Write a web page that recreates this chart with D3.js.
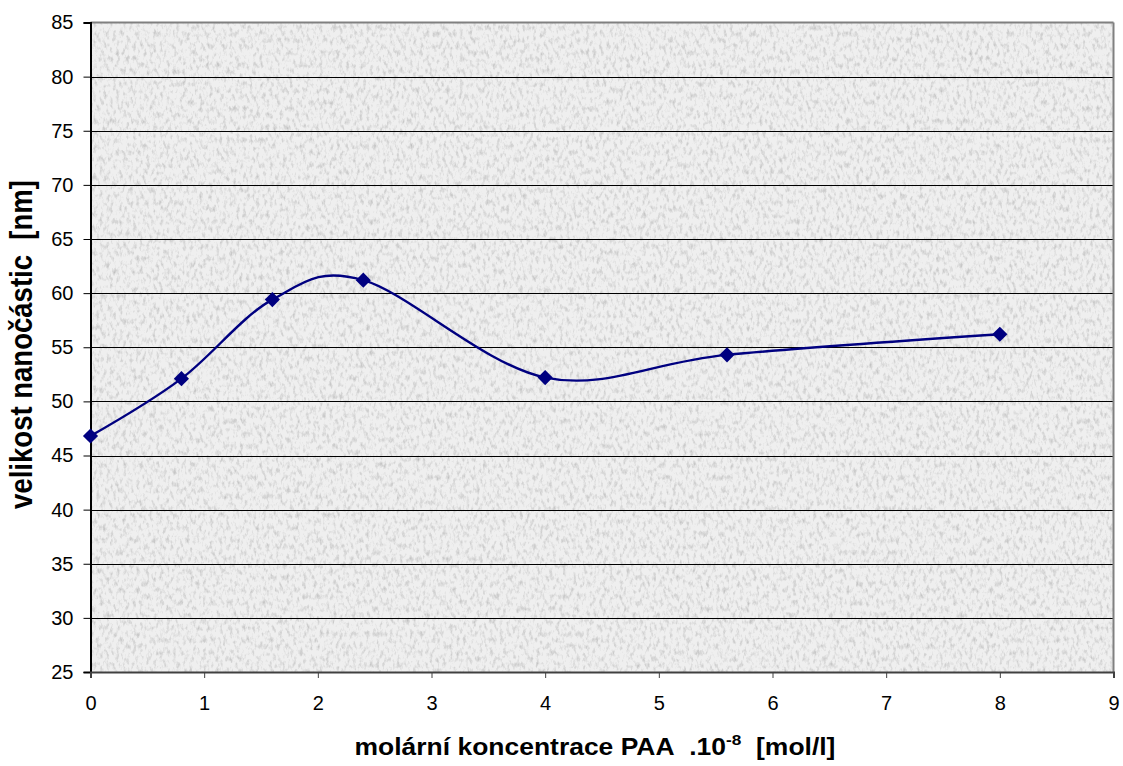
<!DOCTYPE html>
<html><head><meta charset="utf-8">
<script src="https://cdn.jsdelivr.net/npm/d3@7/dist/d3.min.js"></script>
<style>
html,body{margin:0;padding:0;background:#fff;}
svg{display:block;font-family:"Liberation Sans",Arial,sans-serif;}
</style></head>
<body>
<svg id="chart" width="1123" height="766"></svg>
<script>
const xValues = [0, 0.8, 1.6, 2.4, 4, 5.6, 8];
const yValues = [46.8, 52.1, 59.4, 61.2, 52.2, 54.3, 56.2];
const xTicks = [0,1,2,3,4,5,6,7,8,9];
const yTicks = [25,30,35,40,45,50,55,60,65,70,75,80,85];
const xTitle = "molární koncentrace PAA\u00a0\u00a0.10";
const xTitleSup = "-8";
const xTitleEnd = "\u00a0\u00a0[mol/l]";
const yTitle = "velikost nanočástic\u00a0\u00a0[nm]";

const svg = d3.select("#chart");
const L = 90.5, R = 1113.5, T = 22.5, B = 672;
const x = d3.scaleLinear().domain([0,9]).range([L,R]);
const y = d3.scaleLinear().domain([25,85]).range([B,T]);

// texture
const defs = svg.append("defs");
const f = defs.append("filter").attr("id","granite").attr("x",0).attr("y",0).attr("width","100%").attr("height","100%");
f.append("feTurbulence").attr("type","fractalNoise").attr("baseFrequency","0.3 0.16").attr("numOctaves",3).attr("seed",7).attr("result","n");
f.append("feColorMatrix").attr("in","n").attr("type","matrix")
 .attr("values","0 0 0 0 0  0 0 0 0 0  0 0 0 0 0  -1.8 0 0 0 0.95").attr("result","a");
f.append("feFlood").attr("flood-color","#9a9a9a").attr("result","c");
f.append("feComposite").attr("in","c").attr("in2","a").attr("operator","in").attr("result","d");
f.append("feComponentTransfer").attr("in","d").attr("result","e")
 .append("feFuncA").attr("type","linear").attr("slope",0.65).attr("intercept",0);

svg.append("rect").attr("x",L).attr("y",T).attr("width",R-L).attr("height",B-T).attr("fill","#efefef");
svg.append("rect").attr("x",L).attr("y",T).attr("width",R-L).attr("height",B-T).attr("fill","#fff").attr("filter","url(#granite)");

// gridlines
svg.append("g").selectAll("line").data(yTicks.filter(v=>v>25 && v<85)).join("line")
  .attr("x1",L).attr("x2",R).attr("y1",d=>Math.round(y(d))+0.5).attr("y2",d=>Math.round(y(d))+0.5)
  .attr("stroke","#000").attr("stroke-width",1);

// border top/right
svg.append("line").attr("x1",L).attr("x2",R).attr("y1",T).attr("y2",T).attr("stroke","#808080").attr("stroke-width",2);
svg.append("line").attr("x1",R).attr("x2",R).attr("y1",T).attr("y2",B).attr("stroke","#808080").attr("stroke-width",2);

// axes
const yAxis = d3.axisLeft(y).tickValues(yTicks).tickSize(7).tickPadding(10).tickFormat(d3.format("d"));
const gy = svg.append("g").attr("transform",`translate(${L},0)`).call(yAxis);
gy.attr("font-size",null).attr("font-family",null);
gy.select(".domain").attr("stroke","#000").attr("stroke-width",2);
gy.selectAll(".tick line").attr("stroke","#000");
gy.selectAll("text").style("font-size","20px").attr("fill","#000");

const xAxis = d3.axisBottom(x).tickValues(xTicks).tickSize(6).tickPadding(18).tickFormat(d3.format("d"));
const gx = svg.append("g").attr("transform",`translate(0,${B})`).call(xAxis);
gx.attr("font-size",null).attr("font-family",null);
gx.select(".domain").attr("stroke","#404040").attr("stroke-width",2);
gx.selectAll(".tick line").attr("stroke","#404040");
gx.selectAll("text").style("font-size","20px").attr("fill","#000");

// line
const pts = xValues.map((v,i)=>[v,yValues[i]]);
const line = d3.line().x(d=>x(d[0])).y(d=>y(d[1])).curve(d3.curveCardinal.tension(0));
svg.append("path").attr("d",line(pts)).attr("fill","none").attr("stroke","#000080").attr("stroke-width",2.4);

// markers
svg.append("g").selectAll("path").data(pts).join("path")
  .attr("transform",d=>`translate(${x(d[0])},${y(d[1])}) rotate(45)`)
  .attr("d",d3.symbol().type(d3.symbolSquare).size(115)).attr("fill","#000080");

// x title
const xtG = svg.append("g");
const xt = xtG.append("text").attr("x",0).attr("y",0).attr("text-anchor","middle")
  .style("font-size","23px").attr("font-weight","bold").attr("fill","#000");
xt.append("tspan").text(xTitle);
xt.append("tspan").attr("dy",-10).style("font-size","15px").text(xTitleSup);
xt.append("tspan").attr("dy",10).text(xTitleEnd);
const xw = xt.node().getComputedTextLength();
xtG.attr("transform",`translate(595,755) scale(${481/xw},1)`);

// y title
const ytG = svg.append("g");
const yt = ytG.append("text").attr("x",0).attr("y",0).attr("text-anchor","middle")
  .style("font-size","28px").attr("font-weight","bold").attr("fill","#000").text(yTitle);
const yw = yt.node().getComputedTextLength();
ytG.attr("transform",`translate(32,344.5) scale(1.15,${329/yw}) rotate(-90)`);
</script>
</body></html>
